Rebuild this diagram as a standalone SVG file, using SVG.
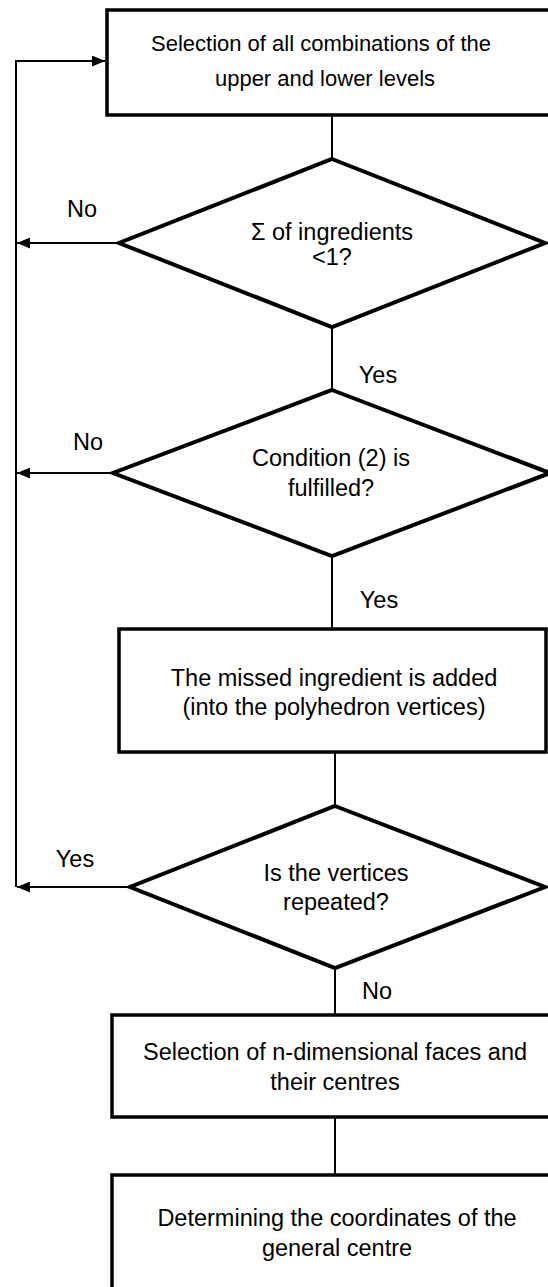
<svg xmlns="http://www.w3.org/2000/svg" width="548" height="1287" viewBox="0 0 548 1287">
<defs>
<style>
.box{fill:#fff;stroke:#000;stroke-width:3.5}
.dia{fill:#fff;stroke:#000;stroke-width:4;stroke-linejoin:miter}
.ln{fill:none;stroke:#000;stroke-width:2}
text{font-family:"Liberation Sans",Arial,sans-serif;font-size:23.5px;fill:#000}
.c{text-anchor:middle}
.s{font-size:22px}
</style>
<marker id="ah" viewBox="0 0 13 11" refX="13" refY="5.5" markerWidth="13" markerHeight="11" markerUnits="userSpaceOnUse" orient="auto">
<path d="M0,0 L13,5.5 L0,11 z" fill="#000"/>
</marker>
</defs>
<rect width="548" height="1287" fill="#fff"/>
<g id="connectors">
<polyline class="ln" points="16,887 16,61 105,61" marker-end="url(#ah)"/>
<line class="ln" x1="332" y1="116" x2="332" y2="159"/>
<line class="ln" x1="119" y1="243" x2="17" y2="243" marker-end="url(#ah)"/>
<line class="ln" x1="332" y1="327" x2="332" y2="390"/>
<line class="ln" x1="113" y1="473" x2="17" y2="473" marker-end="url(#ah)"/>
<line class="ln" x1="332" y1="556" x2="332" y2="629"/>
<line class="ln" x1="335" y1="752" x2="335" y2="806"/>
<line class="ln" x1="130" y1="887" x2="17" y2="887" marker-end="url(#ah)"/>
<line class="ln" x1="335" y1="968" x2="335" y2="1015"/>
<line class="ln" x1="335" y1="1117" x2="335" y2="1175"/>
<text x="82" y="217" class="c">No</text>
<text x="378" y="383" class="c">Yes</text>
<text x="88" y="450" class="c">No</text>
<text x="379" y="608" class="c">Yes</text>
<text x="75" y="867" class="c">Yes</text>
<text x="377" y="999" class="c">No</text>
</g>
<g id="n1">
<rect class="box" x="107" y="10" width="460" height="105"/>
<text x="321" y="51" class="c s">Selection of all combinations of the</text>
<text x="325" y="86" class="c s">upper and lower levels</text>
</g>
<g id="d1">
<polygon class="dia" points="332,159 545,243 332,327 119,243"/>
<text x="332" y="240" class="c" font-size="23">Σ of ingredients</text>
<text x="332" y="265" class="c" font-size="23">&lt;1?</text>
</g>
<g id="d2">
<polygon class="dia" points="332,390 550,473 332,556 113,473"/>
<text x="331" y="466" class="c">Condition (2) is</text>
<text x="331" y="496" class="c">fulfilled?</text>
</g>
<g id="n2">
<rect class="box" x="119" y="629" width="427" height="123"/>
<text x="334" y="686" class="c">The missed ingredient is added</text>
<text x="334" y="715" class="c">(into the polyhedron vertices)</text>
</g>
<g id="d3">
<polygon class="dia" points="335,806 545,887 335,968 130,887"/>
<text x="336" y="881" class="c">Is the vertices</text>
<text x="336" y="910" class="c">repeated?</text>
</g>
<g id="n3">
<rect class="box" x="112" y="1015" width="460" height="102"/>
<text x="335" y="1060" class="c">Selection of n-dimensional faces and</text>
<text x="335" y="1090" class="c">their centres</text>
</g>
<g id="n4">
<rect class="box" x="112" y="1175" width="460" height="130"/>
<text x="337" y="1226" class="c">Determining the coordinates of the</text>
<text x="337" y="1256" class="c">general centre</text>
</g>
</svg>
